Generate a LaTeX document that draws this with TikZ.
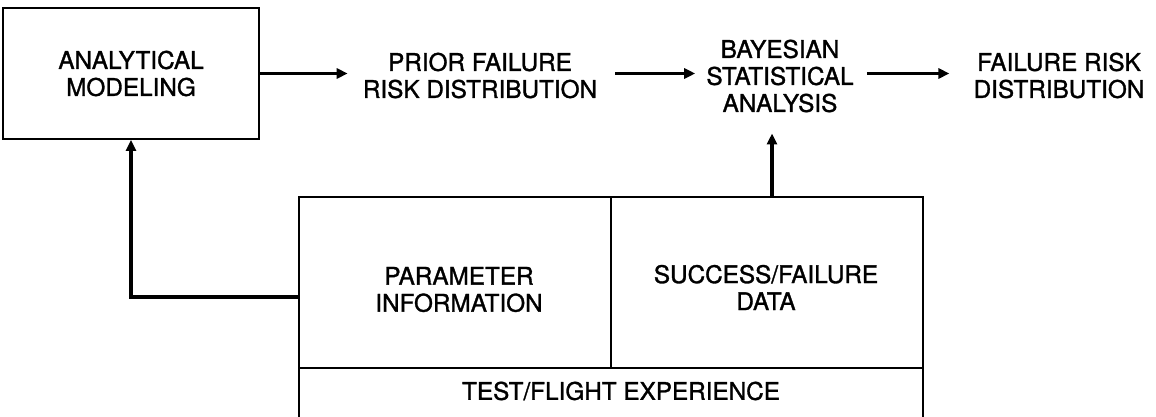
\documentclass[tikz,border=0pt]{standalone}
\usepackage{fontspec}
\setmainfont{TeX Gyre Heros}[FakeBold=1.3]
\usetikzlibrary{arrows.meta}
\begin{document}
\begin{tikzpicture}[x=1pt, y=-1pt,
  lbl/.style={font=\fontsize{24.3}{27}\selectfont, align=center, inner sep=0pt},
  modelbox/.style={draw, line width=1.8pt, minimum width=256pt, minimum height=131pt,
    inner sep=0pt, font=\fontsize{24.3}{27}\selectfont, align=center},
  cell/.style={draw, line width=1.2pt, inner sep=0pt},
  flow/.style={line width=3.6pt, -{Triangle[length=11pt, width=10pt]}},
  feed/.style={line width=3.8pt, -{Triangle[length=11pt, width=10pt]}}]
  \useasboundingbox (0,0) rectangle (1156,417);
  \clip (0,0) rectangle (1156,417);

  % top row
  \node[modelbox] (model) at (131,73.5) {ANALYTICAL\\MODELING};
  \node[lbl] (prior) at (480,75.5) {PRIOR FAILURE\\RISK DISTRIBUTION};
  \node[lbl] (bayes) at (780,76) {BAYESIAN\\STATISTICAL\\ANALYSIS};
  \node[lbl] (risk)  at (1059,75.5) {FAILURE RISK\\DISTRIBUTION};

  % test/flight experience block
  \node[cell, minimum width=312pt, minimum height=171pt] (param) at (455,282.5) {};
  \node[cell, minimum width=312pt, minimum height=171pt] (succ)  at (767,282.5) {};
  \node[cell, minimum width=624pt, minimum height=90pt]  (test)  at (611,413) {};
  \node[lbl] (paramtxt) at (459,289.5) {PARAMETER\\INFORMATION};
  \node[lbl] (succtxt)  at (766,287.5) {SUCCESS/FAILURE\\DATA};
  \node[lbl] (testtxt)  at (621,391)   {TEST/FLIGHT EXPERIENCE};

  % flow arrows
  \coordinate (row) at (0,73.5);
  \coordinate (upx) at (772,0);
  \coordinate (fbrow) at (0,297);
  \draw[flow, shorten >=15pt] (model.east |- row) -- (prior.west |- row);
  \draw[flow, shorten <=18pt, shorten >=11pt] (prior.east |- row) -- (bayes.west |- row);
  \draw[flow, shorten <=13pt, shorten >=24pt] (bayes.east |- row) -- (risk.west |- row);
  \draw[flow, shorten >=21pt] (upx |- succ.north) -- (upx |- bayes.south);
  \draw[feed] (param.west |- fbrow) -| (model.south);
\end{tikzpicture}
\end{document}
